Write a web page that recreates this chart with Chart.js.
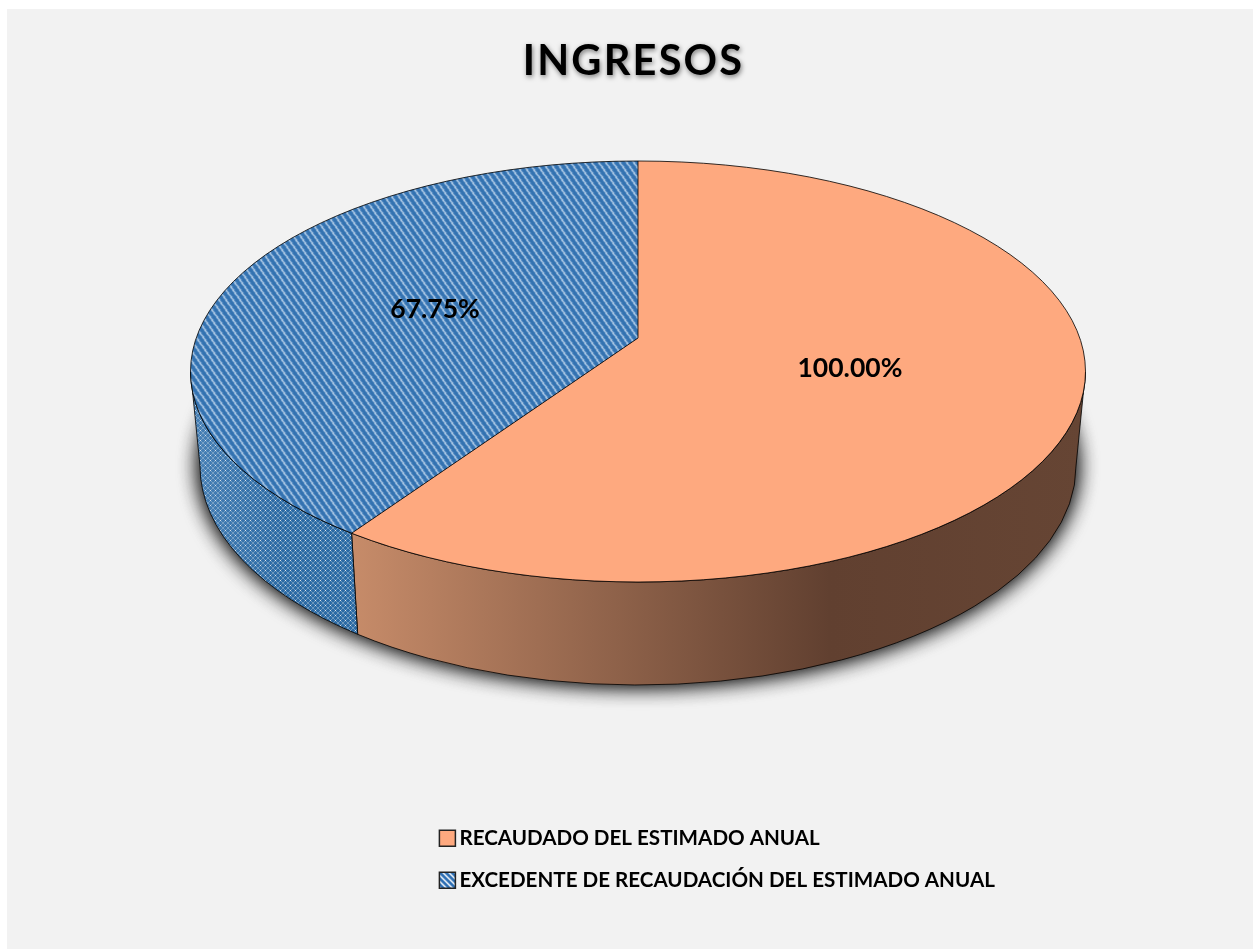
<!DOCTYPE html>
<html lang="es">
<head>
<meta charset="utf-8">
<title>INGRESOS</title>
<script src="https://cdn.jsdelivr.net/npm/chart.js@4/dist/chart.umd.min.js"></script>
<style>
  html, body { margin: 0; padding: 0; background: #fff; overflow: hidden; }
  #panel { position: absolute; left: 7px; top: 9px; width: 1246px; height: 940px; background: #f2f2f2; }
  #chart { position: absolute; left: 0; top: 0; }
</style>
</head>
<body>
<div id="panel"></div>
<canvas id="chart" width="1260" height="949"></canvas>
<script>
const CHART_TITLE = 'INGRESOS';
const CATEGORIES = ['RECAUDADO DEL ESTIMADO ANUAL', 'EXCEDENTE DE RECAUDACIÓN DEL ESTIMADO ANUAL'];
const VALUES = [100, 67.75];
const VALUE_LABELS = ['100.00%', '67.75%'];

const FONT = 'Lato, "Open Sans", sans-serif';
const ORANGE = '#fea97f';

// look of the tilted disc, in page pixels
const TOP = { x: 638, y: 371.5, rx: 447.5, ry: 210.5 };
const BOTTOM = { x: 638, y: 466, rx: 438, ry: 219 };
const APEX_Y = 338;
const K = (APEX_Y - TOP.y) / TOP.ry; // apex offset, in rim radii
const LABEL_REACH = [0.496, 0.475];  // how far along the middle ray the value label sits
const LABEL_NUDGE = [-1, 1.5];

function hatch(w, h, paint) {
  const c = document.createElement('canvas');
  c.width = w; c.height = h;
  const g = c.getContext('2d');
  for (let y = 0; y < h; y++) for (let x = 0; x < w; x++) { g.fillStyle = paint(x, y); g.fillRect(x, y, 1, 1); }
  return g.createPattern(c, 'repeat');
}
function stripes(x, y) {
  const p = (x - Math.floor(y * 0.7) + 70) % 7;
  return p === 0 ? '#c8dcf0' : p === 1 ? '#8ab0d8' : p === 4 ? '#2d6cab' : '#3a78b6';
}
function dots(x, y) {
  const d1 = (x + y) % 5, d2 = (x - y + 50) % 5;
  return d1 === 0 && d2 === 0 ? '#dfe6ea' : (d1 === 0 || d2 === 0) ? '#6c96bb' : '#2b6aa5';
}
const topPattern = hatch(7, 10, stripes);
const sidePattern = hatch(5, 5, dots);
const legendPattern = hatch(6, 6, (x, y) => ((x + 6 - y) % 6 < 2 ? '#ffffff' : '#2e6fb4'));

// where the ray from the apex at angle a meets the rim (rim radius = 1)
function rimUnit(a) {
  const s = Math.sin(a), c = Math.cos(a);
  const t = -K * s + Math.sqrt(K * K * s * s - K * K + 1);
  return { x: t * c, y: K + t * s };
}
function onEllipse(e, u) { return { x: e.x + e.rx * u.x, y: e.y + e.ry * u.y }; }
function rimPhi(a) {
  const u = rimUnit(a);
  let phi = Math.atan2(u.y, u.x);
  while (phi < a - Math.PI) phi += 2 * Math.PI;
  return phi;
}

const discPlugin = {
  id: 'disc',
  afterLayout(chart) {
    // nudge title and legend onto their places, title gets its soft shadow
    const title = chart.titleBlock, legend = chart.legend;
    if (!title._wrapped) {
      const draw = title.draw;
      title.draw = function () {
        const ctx = this.ctx;
        ctx.save();
        ctx.translate(3.5, 1);
        ctx.letterSpacing = '2.2px';
        ctx.shadowColor = 'rgba(0,0,0,0.5)'; ctx.shadowBlur = 5; ctx.shadowOffsetX = 1; ctx.shadowOffsetY = 2;
        draw.call(this);
        ctx.restore();
      };
      title._wrapped = true;
    }
    if (!legend._wrapped) {
      const draw = legend.draw;
      legend.draw = function () {
        const ctx = this.ctx;
        ctx.save();
        ctx.translate(424.3 - this.left, 806.5 - this.top);
        draw.call(this);
        ctx.restore();
      };
      legend._wrapped = true;
    }
  },
  beforeDatasetsDraw(chart) {
    const ctx = chart.ctx;
    const arcs = chart.getDatasetMeta(0).data;
    const grad = ctx.createLinearGradient(355, 0, 1085, 0);
    grad.addColorStop(0, '#c68b69');
    grad.addColorStop(0.65, '#614030');
    grad.addColorStop(1, '#664534');
    const sideFills = [grad, sidePattern];

    // drop shadow under the disc
    ctx.save();
    ctx.shadowColor = 'rgba(0,0,0,0.9)';
    ctx.shadowBlur = 22;
    ctx.shadowOffsetY = 1;
    ctx.fillStyle = '#333';
    ctx.beginPath();
    ctx.ellipse(BOTTOM.x, BOTTOM.y - 1, BOTTOM.rx - 1, BOTTOM.ry - 1, 0, 0, 2 * Math.PI);
    ctx.fill();
    ctx.fill();
    ctx.restore();

    // side wall of each slice that faces the viewer
    arcs.forEach((arc, i) => {
      const from = Math.max(rimPhi(arc.startAngle), 0);
      const to = Math.min(rimPhi(arc.endAngle), Math.PI);
      if (to <= from) return;
      ctx.beginPath();
      ctx.ellipse(TOP.x, TOP.y, TOP.rx, TOP.ry, 0, from, to);
      ctx.ellipse(BOTTOM.x, BOTTOM.y, BOTTOM.rx, BOTTOM.ry, 0, to, from, true);
      ctx.closePath();
      ctx.fillStyle = sideFills[i];
      ctx.fill();
      if (i === 1) {
        // wall gets lighter towards the far left
        const glow = ctx.createLinearGradient(195, 0, 280, 0);
        glow.addColorStop(0, 'rgba(170,205,240,0.22)');
        glow.addColorStop(1, 'rgba(170,205,240,0)');
        ctx.fillStyle = glow;
        ctx.fill();
      }
      ctx.lineWidth = 1;
      ctx.strokeStyle = 'rgba(0,0,0,0.8)';
      ctx.stroke();
    });

    // the library's arcs get squashed onto the tilted disc and cut at the rim
    const a0 = arcs[0];
    const sx = TOP.rx * (1 + Math.abs(K) + 0.02) / a0.outerRadius;
    const sy = TOP.ry * (1 + Math.abs(K) + 0.02) / a0.outerRadius;
    topPattern.setTransform(new DOMMatrix().scale(1 / sx, 1 / sy));
    ctx.save();
    ctx.beginPath();
    ctx.ellipse(TOP.x, TOP.y, TOP.rx, TOP.ry, 0, 0, 2 * Math.PI);
    ctx.clip();
    ctx.translate(TOP.x, APEX_Y);
    ctx.scale(sx, sy);
    ctx.translate(-a0.x, -a0.y);
  },
  afterDatasetsDraw(chart) {
    const ctx = chart.ctx;
    ctx.restore();
    const arcs = chart.getDatasetMeta(0).data;

    ctx.lineWidth = 1;
    ctx.strokeStyle = 'rgba(0,0,0,0.8)';
    ctx.beginPath();
    ctx.ellipse(TOP.x, TOP.y, TOP.rx, TOP.ry, 0, 0, 2 * Math.PI);
    ctx.stroke();
    arcs.forEach((arc) => {
      const p = onEllipse(TOP, rimUnit(arc.startAngle));
      ctx.beginPath();
      ctx.moveTo(TOP.x, APEX_Y);
      ctx.lineTo(p.x, p.y);
      ctx.stroke();
    });

    // value labels sit about half way along each slice's middle ray
    ctx.fillStyle = '#000';
    ctx.font = 'bold 26.5px ' + FONT;
    ctx.textAlign = 'center';
    ctx.textBaseline = 'middle';
    arcs.forEach((arc, i) => {
      const mid = (arc.startAngle + arc.endAngle) / 2;
      const x = TOP.x + Math.cos(mid) * TOP.rx * LABEL_REACH[i];
      const y = APEX_Y + Math.sin(mid) * TOP.ry * LABEL_REACH[i] + LABEL_NUDGE[i];
      ctx.fillText(VALUE_LABELS[i], x, y);
    });
  },
};

new Chart(document.getElementById('chart'), {
  type: 'pie',
  data: {
    labels: CATEGORIES,
    datasets: [{
      data: VALUES,
      backgroundColor: [ORANGE, topPattern],
      borderWidth: 0,
      hoverOffset: 0,
      clip: false,
    }],
  },
  options: {
    responsive: false,
    animation: false,
    events: [],
    plugins: {
      title: {
        display: true,
        text: CHART_TITLE,
        color: '#000',
        font: { family: FONT, size: 41.5, weight: 'bold' },
        padding: { top: 36, bottom: 10 },
      },
      legend: {
        position: 'left',
        align: 'start',
        labels: {
          usePointStyle: true,
          boxWidth: 3.4,
          boxHeight: 16,
          padding: 21.4,
          color: '#000',
          font: { family: FONT, size: 20.6, weight: 'bold' },
          generateLabels: () => CATEGORIES.map((text, i) => ({
            text,
            index: i,
            fillStyle: i === 0 ? ORANGE : legendPattern,
            strokeStyle: '#222',
            lineWidth: 1.5,
            pointStyle: 'rect',
            fontColor: '#000',
            hidden: false,
          })),
        },
      },
      tooltip: { enabled: false },
    },
  },
  plugins: [discPlugin],
});
</script>
</body>
</html>
